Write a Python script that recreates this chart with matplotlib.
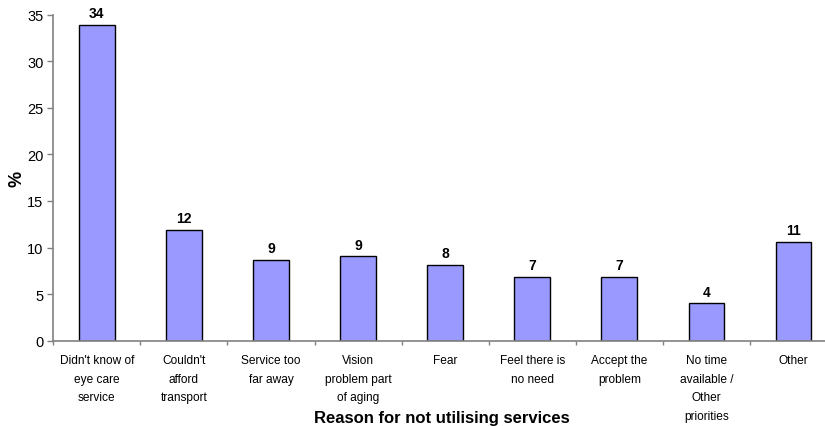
import matplotlib
matplotlib.use("Agg")
import matplotlib.pyplot as plt
import numpy as np

plt.rcParams['font.family'] = ['Liberation Sans', 'DejaVu Sans']

categories = [
    "Didn't know of\neye care\nservice",
    "Couldn't\nafford\ntransport",
    "Service too\nfar away",
    "Vision\nproblem part\nof aging",
    "Fear",
    "Feel there is\nno need",
    "Accept the\nproblem",
    "No time\navailable /\nOther\npriorities",
    "Other",
]
percent = [33.9, 11.85, 8.7, 9.05, 8.15, 6.8, 6.8, 4.0, 10.6]
y_ticks = [0, 5, 10, 15, 20, 25, 30, 35]

fig = plt.figure(figsize=(8.25, 4.27), dpi=100)
ax = fig.add_axes([0.0646, 0.1998, 0.95, 0.7634])

x = np.arange(len(categories))
ax.bar(x, percent, width=0.41, color='#9999FF', edgecolor='black', linewidth=1.0, zorder=2)

for xi, v in zip(x, percent):
    ax.annotate(f"{v:.0f}", (xi, v), xytext=(0, 3.5), textcoords='offset points',
                ha='center', va='bottom', fontsize=10, fontweight='bold')

ax.set_xlim(-0.5, len(categories) - 0.5)
ax.set_ylim(0, 35)
ax.set_yticks(y_ticks)
ax.tick_params(axis='y', labelsize=10.5, length=4, width=1, color='#808080', pad=3)

ax.set_xticks(x)
ax.set_xticklabels(categories, fontsize=8.6, linespacing=1.75, va='top')
ax.set_xticks(np.arange(len(categories) + 1) - 0.5, minor=True)
ax.tick_params(axis='x', which='major', length=0, pad=9.5)
ax.tick_params(axis='x', which='minor', length=3, width=1, color='#808080')

for s in ['top', 'right']:
    ax.spines[s].set_visible(False)
for s in ['left', 'bottom']:
    ax.spines[s].set_color('#808080')
    ax.spines[s].set_linewidth(1.2)

ax.set_ylabel('%', fontsize=13, fontweight='bold', labelpad=1)
fig.text(0.535, 0.01, 'Reason for not utilising services', ha='center', va='baseline',
         fontsize=12, fontweight='bold')

fig.savefig('out.png', dpi=100)
